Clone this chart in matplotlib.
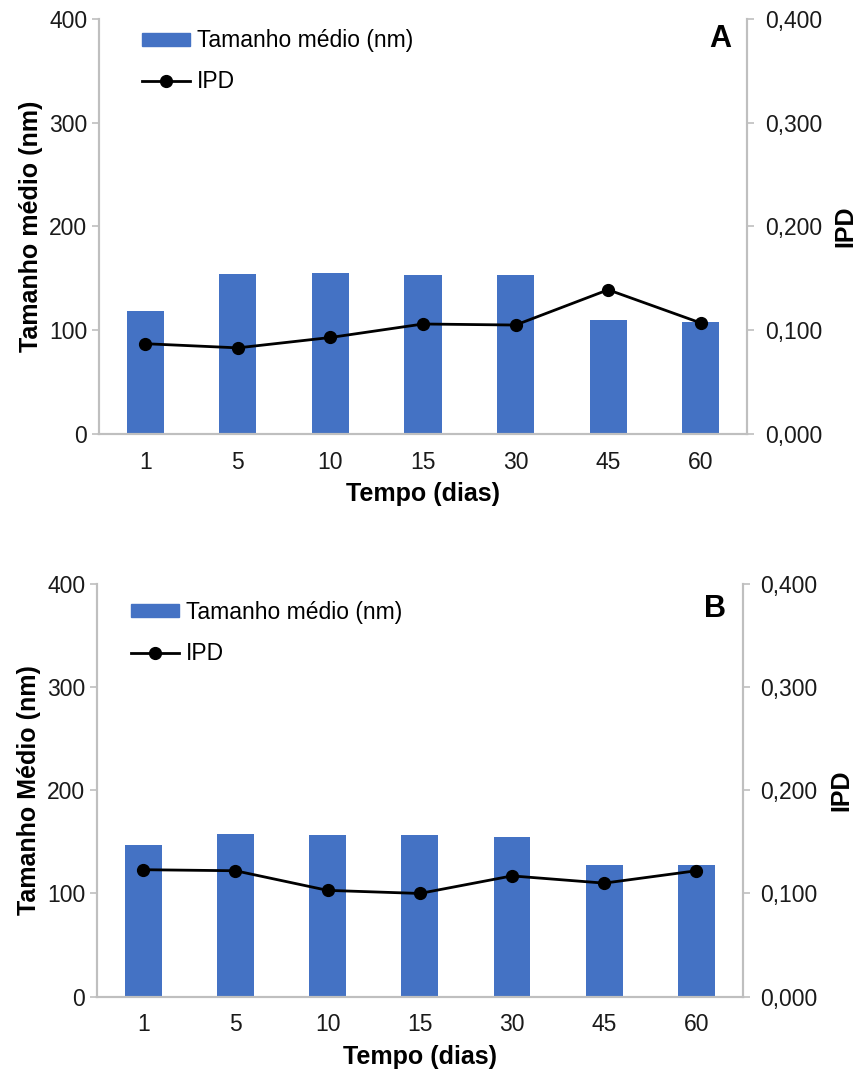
import numpy as np
import matplotlib.pyplot as plt
from matplotlib.lines import Line2D
from matplotlib.patches import Patch

plt.rcParams['font.family'] = ['Liberation Sans', 'DejaVu Sans']

# categories (days)
dias = ['1', '5', '10', '15', '30', '45', '60']

# panel A
tamanho_a = [119, 154, 155, 153, 153, 110, 108]
ipd_a = [0.087, 0.083, 0.093, 0.106, 0.105, 0.139, 0.107]

# panel B
tamanho_b = [147, 158, 157, 157, 155, 128, 128]
ipd_b = [0.123, 0.122, 0.103, 0.100, 0.117, 0.110, 0.122]

BLUE = '#4472C4'
GREY = '#bfbfbf'


def painel(rect, tamanho, ipd, ylabel, letra, leg_anchor, letra_pos):
    ax = fig.add_axes(rect)
    x = np.arange(len(dias))
    ax.bar(x, tamanho, width=0.4, color=BLUE, zorder=2)
    ax.set_xlim(-0.5, len(dias) - 0.5)
    ax.set_ylim(0, 400)
    ax.set_yticks([0, 100, 200, 300, 400])
    ax.set_xticks(x)
    ax.set_xticklabels(dias)
    ax.set_ylabel(ylabel, fontsize=18, fontweight='bold', labelpad=4)
    ax.set_xlabel('Tempo (dias)', fontsize=18, fontweight='bold', labelpad=6)

    ax2 = ax.twinx()
    ax2.plot(x, ipd, color='black', lw=2, marker='o', markersize=8.5, zorder=3)
    ax2.set_ylim(0, 0.4)
    ax2.set_yticks([0, 0.1, 0.2, 0.3, 0.4])
    ax2.set_yticklabels([f'{v:.3f}'.replace('.', ',') for v in [0, 0.1, 0.2, 0.3, 0.4]])
    ax2.set_ylabel('IPD', fontsize=18, fontweight='bold', labelpad=8)

    for a in (ax, ax2):
        a.spines['top'].set_visible(False)
        for s in ('left', 'right', 'bottom'):
            a.spines[s].set_color(GREY)
            a.spines[s].set_linewidth(1.5)
        a.tick_params(axis='y', colors=GREY, labelcolor='#1a1a1a', labelsize=16.5,
                      length=5, width=1.2)
        a.tick_params(axis='x', length=0, labelsize=16.5, labelcolor='#1a1a1a', pad=12)
    ax2.tick_params(axis='y', pad=8)

    handles = [Patch(color=BLUE), Line2D([], [], color='black', lw=2, marker='o', markersize=8.5)]
    ax2.legend(handles, ['Tamanho médio (nm)', 'IPD'], loc='upper left',
               bbox_to_anchor=leg_anchor, frameon=False, fontsize=16.5,
               handlelength=2.1, handleheight=0.5, handletextpad=0.3,
               labelspacing=0.78)
    ax2.text(letra_pos[0], letra_pos[1], letra, transform=ax2.transAxes, fontsize=22,
             fontweight='bold', ha='center', va='center')


fig = plt.figure(figsize=(8.61, 10.76), dpi=100)
painel([0.115, 0.5967, 0.7526, 0.3856], tamanho_a, ipd_a, 'Tamanho médio (nm)', 'A',
       (0.034, 1.025), (0.958, 0.953))
painel([0.1127, 0.0737, 0.7497, 0.3838], tamanho_b, ipd_b, 'Tamanho Médio (nm)', 'B',
       (0.02, 1.008), (0.958, 0.94))
fig.savefig('out.png', dpi=100)
